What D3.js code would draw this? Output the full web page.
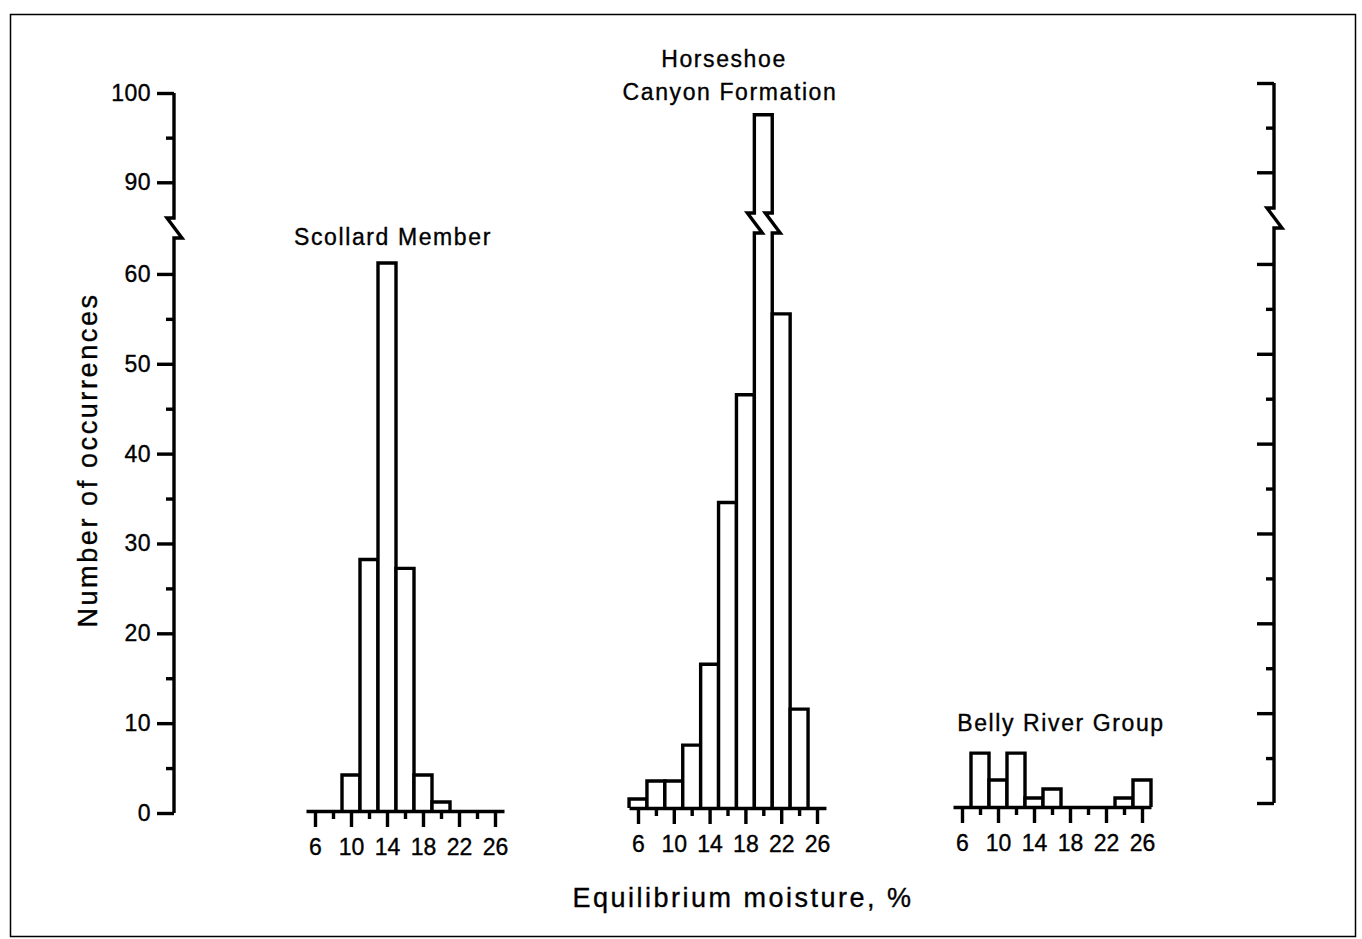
<!DOCTYPE html>
<html><head><meta charset="utf-8">
<script src="https://cdn.jsdelivr.net/npm/d3@7/dist/d3.min.js"></script>
<style>
body{margin:0;background:#fff;}
svg text{font-family:"Liberation Sans",Arial,Helvetica,sans-serif;fill:#000;stroke:#000;stroke-width:0.35px;}
</style></head><body>
<svg id="chart" width="1362" height="939"></svg>
<script>
// ---- data ----
const moistureBins = [6, 8, 10, 12, 14, 16, 18, 20, 22, 24, 26];
const scollardCounts = [0, 0, 4, 28, 61, 27, 4, 1, 0, 0, 0];
const horseshoeCounts = [1, 3, 3, 7, 16, 34, 46, 97, 55, 11, 0];
const bellyCounts = [0, 6, 3, 6, 1, 2, 0, 0, 0, 1, 3];
const xTickMajor = [6, 10, 14, 18, 22, 26];
const xTickMinor = [8, 12, 16, 20, 24];
const yTickMajor = [0, 10, 20, 30, 40, 50, 60, 90, 100];
const yTickMinor = [5, 15, 25, 35, 45, 55, 95];
const breakLow = 64, breakHigh = 86;
const yTitle = "Number of occurrences";
const xTitle = "Equilibrium moisture, %";

// ---- layout ----
const svg = d3.select("#chart");
const W = 1362, H = 939;
svg.append("rect").attr("x", 0).attr("y", 0).attr("width", W).attr("height", H).attr("fill", "#fff");
svg.append("rect").attr("x", 10.5).attr("y", 14.5).attr("width", 1345).attr("height", 922)
  .attr("fill", "none").attr("stroke", "#000").attr("stroke-width", 1.5);

const y = d3.scaleLinear().domain([0, breakLow, breakHigh, 100]).range([813, 238, 218, 93]);
const SW = 3.4;

function brokenLine(x, vTop) {
  return `M${x},${y(0)}V${y(breakLow)}H${x + 8}L${x - 7},${y(breakHigh)}H${x}V${y(vTop)}`;
}

// left axis
const leftX = 174;
const gl = svg.append("g");
gl.append("path").attr("d", brokenLine(leftX, 100)).attr("fill", "none")
  .attr("stroke", "#000").attr("stroke-width", SW);
const ga = gl.append("g").attr("transform", `translate(${leftX},0)`)
  .call(d3.axisLeft(y).tickValues(yTickMajor).tickSize(17).tickPadding(6).tickFormat(d3.format("d")));
ga.select(".domain").remove();
ga.selectAll("line").attr("stroke-width", SW);
ga.selectAll("text").style("font-size", "23px").style("letter-spacing", "0.5px");
const gm = gl.append("g").attr("transform", `translate(${leftX},0)`)
  .call(d3.axisLeft(y).tickValues(yTickMinor).tickSize(8).tickFormat(""));
gm.select(".domain").remove();
gm.selectAll("line").attr("stroke-width", SW);

// right axis (shifted as in the original print)
const rightX = 1274;
const gr = svg.append("g").attr("transform", "translate(0,-10)");
gr.append("path").attr("d", brokenLine(rightX, 100)).attr("fill", "none")
  .attr("stroke", "#000").attr("stroke-width", SW);
const ra = gr.append("g").attr("transform", `translate(${rightX},0)`)
  .call(d3.axisLeft(y).tickValues(yTickMajor).tickSize(17).tickFormat(""));
ra.select(".domain").remove();
ra.selectAll("line").attr("stroke-width", SW);
const rm = gr.append("g").attr("transform", `translate(${rightX},0)`)
  .call(d3.axisLeft(y).tickValues(yTickMinor).tickSize(8).tickFormat(""));
rm.select(".domain").remove();
rm.selectAll("line").attr("stroke-width", SW);

// panels
const panels = [
  {counts: scollardCounts, x6: 315, x26: 495, dy: -2},
  {counts: horseshoeCounts, x6: 638, x26: 817, dy: -5},
  {counts: bellyCounts, x6: 962, x26: 1142, dy: -6}
];

panels.forEach(p => {
  const g = svg.append("g").attr("transform", `translate(0,${p.dy})`);
  const x = d3.scaleLinear().domain([6, 26]).range([p.x6, p.x26]);
  const data = moistureBins.map((b, i) => ({bin: b, v: p.counts[i]})).filter(d => d.v > 0);
  g.selectAll("path.bar").data(data).join("path").attr("class", "bar")
    .attr("fill", "#fff").attr("stroke", "#000").attr("stroke-width", SW)
    .attr("stroke-linejoin", "miter")
    .attr("d", d => {
      const xl = x(d.bin - 1), xr = x(d.bin + 1);
      if (d.v > breakLow) {
        return `M${xl},${y(0)}V${y(breakLow)}H${xl + 8}L${xl - 7},${y(breakHigh)}H${xl}V${y(d.v)}` +
               `H${xr}V${y(breakHigh)}H${xr - 7}L${xr + 8},${y(breakLow)}H${xr}V${y(0)}`;
      }
      return `M${xl},${y(0)}V${y(d.v)}H${xr}V${y(0)}`;
    });
  const xa = x.copy().domain([5, 27]).range([x(5), x(27)]);
  const ax = g.append("g").attr("transform", `translate(0,${y(0)})`)
    .call(d3.axisBottom(xa).tickValues(xTickMajor).tickSize(16).tickSizeOuter(0).tickPadding(12));
  ax.select(".domain").attr("stroke-width", SW);
  ax.selectAll("line").attr("stroke-width", SW);
  ax.selectAll("text").style("font-size", "23px");
  const axm = g.append("g").attr("transform", `translate(0,${y(0)})`)
    .call(d3.axisBottom(xa).tickValues(xTickMinor).tickSize(8).tickFormat(""));
  axm.select(".domain").remove();
  axm.selectAll("line").attr("stroke-width", SW);
});

// panel titles
const titleStyle = sel => sel.attr("text-anchor", "middle").style("font-size", "23px").style("letter-spacing", "1.6px");
svg.append("text").attr("x", 393).attr("y", 245).text("Scollard Member").call(titleStyle);
svg.append("text").attr("x", 724).attr("y", 67).text("Horseshoe").call(titleStyle);
svg.append("text").attr("x", 730).attr("y", 100).text("Canyon Formation").call(titleStyle);
svg.append("text").attr("x", 1061).attr("y", 731).text("Belly River Group").call(titleStyle);

// axis titles
svg.append("text").attr("transform", "translate(97,460) rotate(-90)")
  .attr("text-anchor", "middle").style("font-size", "27px").style("letter-spacing", "2.6px").text(yTitle);
svg.append("text").attr("x", 743).attr("y", 907)
  .attr("text-anchor", "middle").style("font-size", "27px").style("letter-spacing", "2.5px").text(xTitle);
</script>
</body></html>
